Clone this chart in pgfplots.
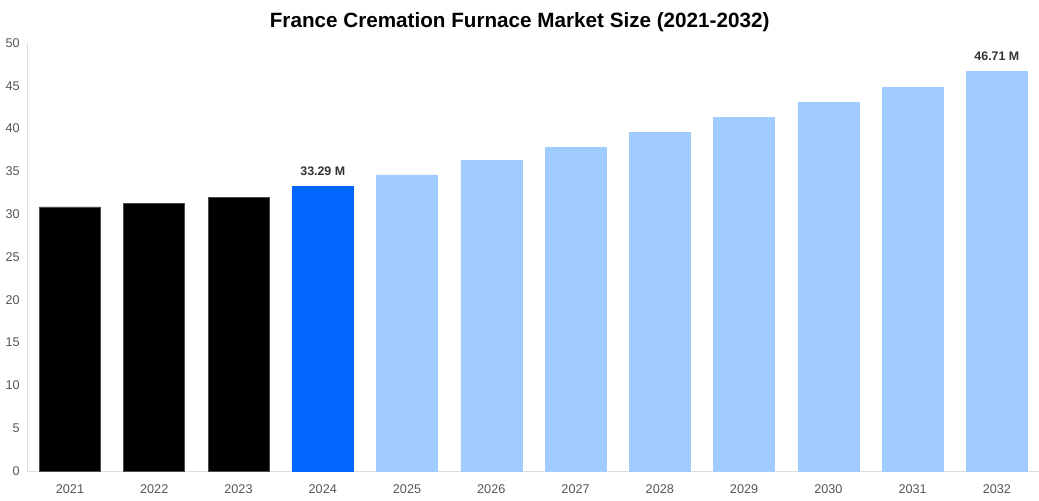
\documentclass[border=0pt]{standalone}
\usepackage{fontspec}
\setmainfont{Liberation Sans}
\usepackage{pgfplots}
\pgfplotsset{compat=1.18}
\definecolor{barblue}{HTML}{0066FF}
\definecolor{barlight}{HTML}{A0CCFF}
\definecolor{axisgray}{HTML}{DDDDDD}
\definecolor{tickgray}{HTML}{555555}
\definecolor{labelgray}{HTML}{333333}
\begin{document}
\begin{tikzpicture}
\useasboundingbox (-20.25pt,-21.75pt) rectangle (759pt,353.25pt);
\begin{axis}[
  scale only axis,
  width=759pt, height=321pt,
  ybar, bar width=45.75pt, bar shift=0pt,
  xmin=-0.51, xmax=11.5,
  ymin=0, ymax=50,
  ytick={0,5,...,50},
  xtick={0,...,11},
  xticklabels={2021,2022,2023,2024,2025,2026,2027,2028,2029,2030,2031,2032},
  axis x line*=bottom, axis y line*=left,
  axis line style={draw=axisgray, line width=0.75pt, -},
  major tick length=0pt,
  tick label style={font=\fontsize{9.5}{11}\selectfont, text=tickgray},
  /pgf/number format/assume math mode=true,
  xticklabel style={yshift=-7pt},
  yticklabel style={xshift=-2pt},
  title={\bfseries France Cremation Furnace Market Size (2021-2032)},
  title style={font=\fontsize{15.5}{18}\selectfont, text=black, anchor=center,
    at={(axis description cs:0.5,1)}, yshift=9.75pt, xshift=-10pt},
  nodes near coords style={font=\bfseries\fontsize{9.3}{11}\selectfont, text=labelgray, anchor=south, yshift=4.5pt},
]
\addplot[fill=black, draw=black!70, line width=0.4pt] coordinates {(0,30.85) (1,31.3) (2,32.0)};
\addplot[fill=barblue, draw=barblue, line width=0.4pt, nodes near coords={33.29 M}] coordinates {(3,33.29)};
\addplot[fill=barlight, draw=barlight, line width=0.4pt] coordinates {(4,34.6) (5,36.3) (6,37.85) (7,39.6) (8,41.35) (9,43.1) (10,44.85)};
\addplot[fill=barlight, draw=barlight, line width=0.4pt, nodes near coords={46.71 M}] coordinates {(11,46.71)};
\end{axis}
\end{tikzpicture}
\end{document}
